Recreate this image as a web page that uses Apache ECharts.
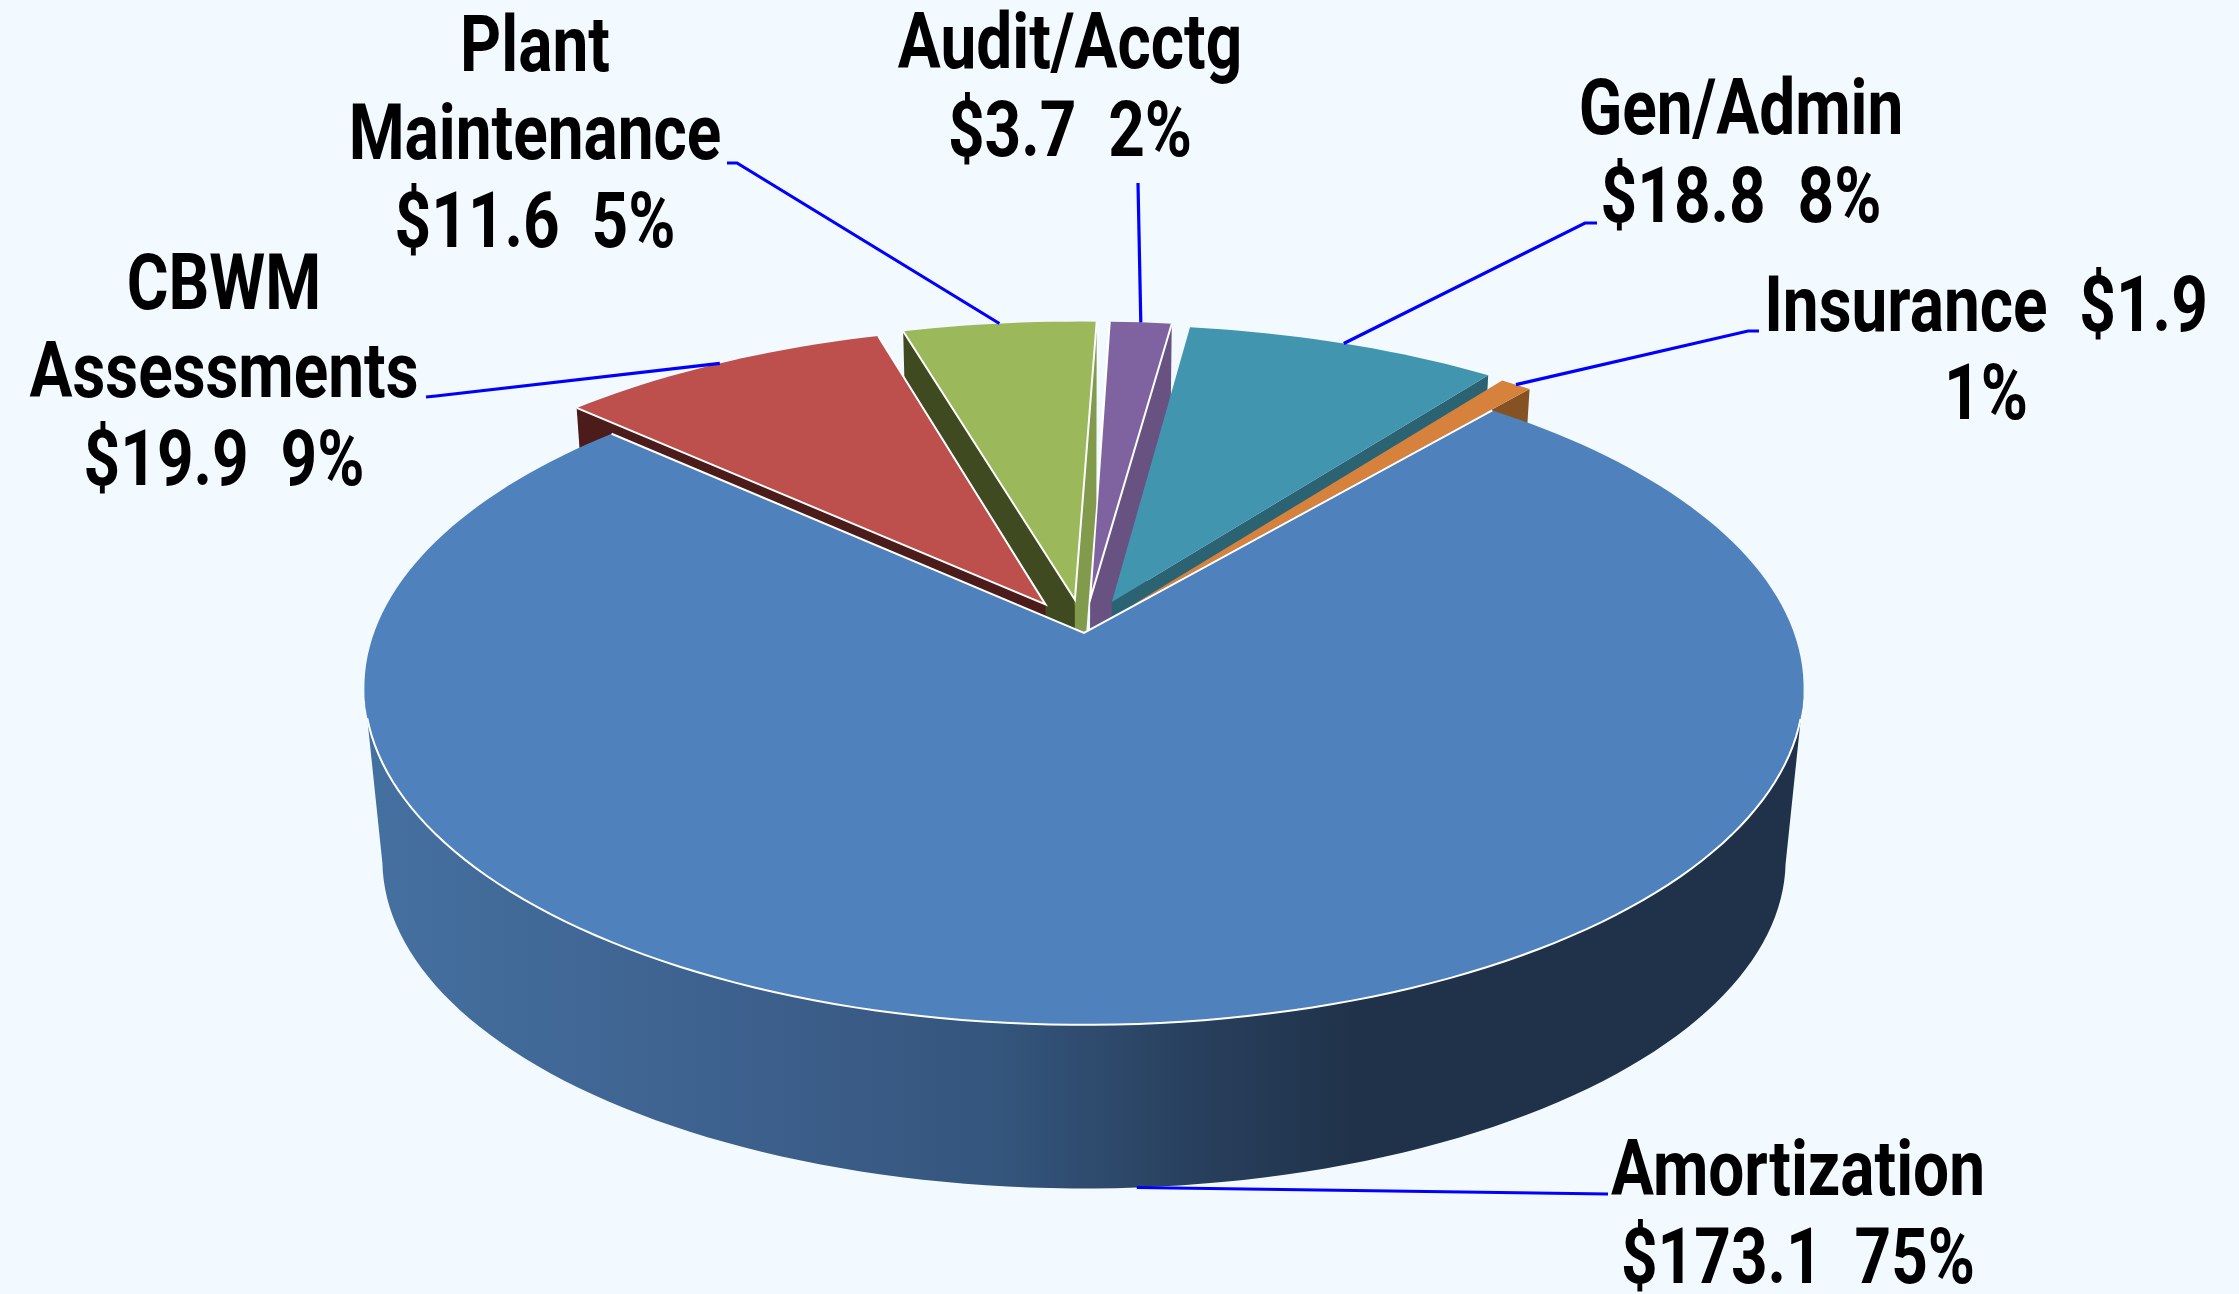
<!DOCTYPE html>
<html>
<head>
<meta charset="utf-8">
<title>Expenses</title>
<script src="https://cdn.jsdelivr.net/npm/echarts@6/dist/echarts.min.js"></script>
<style>
  html, body { margin: 0; padding: 0; background: #f2f9ff; }
  #chart { width: 2239px; height: 1294px; }
</style>
</head>
<body>
<div id="chart"></div>
<script>
// data, clockwise from the top left corner of the gap
var categories = ["CBWM\nAssessments", "Plant\nMaintenance", "Audit/Acctg", "Gen/Admin", "Insurance", "Amortization"];
var amounts = [19.9, 11.6, 3.7, 18.8, 1.9, 173.1];
var amountLabels = ["$19.9", "$11.6", "$3.7", "$18.8", "$1.9", "$173.1"];
var percentLabels = ["9%", "5%", "2%", "8%", "1%", "75%"];

// look of each slice
var faceColors = ["#bd4f4d", "#9bb95a", "#7f63a0", "#4195ae", "#d6823c", "#4f81bd"];
var startWallColors = ["#4c1c1b", "#3f4a21", null, null, null, null];
var endWallColors = [null, "#819a4b", "#675282", "#2b6373", "#855224", null];
var whiteEdges = [true, true, true, false, false, true];
var explode = [0.104, 0.104, 0.104, 0.104, 0.104, 0];
var radii = [1.015, 1.02, 1.02, 1.012, 1.004, 1];
var paintOrder = [2, 3, 4, 1, 0, 5];

// where the labels and their elbows sit
var labelPos = [[224, 378], [535, 140], [1070, 93], [1741, 159], [1986, 356], [1798, 1220]];
var elbowPos = [[436, 396], [737, 163], null, [1585, 223], [1748, 331], null];
var leaderEnd = [[426, 397], [727, 163], [1138, 183], [1597, 223], [1759, 331], [1608, 1194]];

// projection of the tilted disc
var CX = 1084, CY = 633, A = 710, B = 328, K = 0.163;
var WALL_SCALE = 0.975, RIM_MID_Y = 688, WALL_DROP = 172;
var START_ANGLE = 137.6;

var total = amounts.reduce(function (a, b) { return a + b; }, 0);
var sliceAngles = [];
var cursor = START_ANGLE;
amounts.forEach(function (v) {
  var sweep = v / total * 360;
  sliceAngles.push([cursor, cursor - sweep]);
  cursor -= sweep;
});

function rad(d) { return d * Math.PI / 180; }

// disc coords (v pointing away from the viewer) to screen
function project(u, v) {
  var d = 1 + K * v;
  return [CX + A * u / d, CY - B * v / d];
}
function drop(p) {
  return [CX + WALL_SCALE * (p[0] - CX), RIM_MID_Y + WALL_DROP + WALL_SCALE * (p[1] - RIM_MID_Y)];
}
function sliceCenter(i) {
  var mid = rad((sliceAngles[i][0] + sliceAngles[i][1]) / 2);
  return [explode[i] * Math.cos(mid), explode[i] * Math.sin(mid)];
}
function rimPoint(i, deg) {
  var c = sliceCenter(i);
  return project(c[0] + radii[i] * Math.cos(rad(deg)), c[1] + radii[i] * Math.sin(rad(deg)));
}
function apexPoint(i) {
  var c = sliceCenter(i);
  return project(c[0], c[1]);
}
function rimArc(i) {
  var a = sliceAngles[i], pts = [];
  var n = Math.max(2, Math.ceil((a[0] - a[1]) / 1.5));
  for (var s = 0; s <= n; s++) pts.push(rimPoint(i, a[0] + (a[1] - a[0]) * s / n));
  return pts;
}

var blueWallFill = {
  type: "linear", global: true, x: 370, y: 0, x2: 1800, y2: 0,
  colorStops: [
    { offset: 0, color: "#44709f" },
    { offset: 0.23, color: "#3e6290" },
    { offset: 0.44, color: "#34557c" },
    { offset: 0.58, color: "#283f5d" },
    { offset: 0.69, color: "#1f3249" },
    { offset: 1, color: "#1f3249" }
  ]
};

function wall(p, color) {
  return {
    type: "polygon",
    shape: { points: [p[0], p[1], drop(p[1]), drop(p[0])] },
    style: { fill: color }
  };
}

// near part of the rim, between the leftmost and rightmost points
function nearRim(arc) {
  var right = 0, left = 0;
  arc.forEach(function (p, k) {
    if (p[0] > arc[right][0]) right = k;
    if (p[0] < arc[left][0]) left = k;
  });
  return arc.slice(right, left + 1);
}

function renderSlice(params, api) {
  var i = api.value(0);
  var arc = rimArc(i), apex = apexPoint(i);
  var children = [];
  if (i === 5) {
    var near = nearRim(arc);
    children.push({
      type: "polygon",
      shape: { points: near.concat(near.map(drop).reverse()) },
      style: { fill: blueWallFill }
    });
  }
  if (startWallColors[i]) children.push(wall([arc[0], apex], startWallColors[i]));
  if (endWallColors[i]) children.push(wall([arc[arc.length - 1], apex], endWallColors[i]));
  children.push({
    type: "polygon",
    shape: { points: [apex].concat(arc) },
    style: { fill: faceColors[i] }
  });
  if (whiteEdges[i]) {
    children.push({
      type: "polyline",
      shape: { points: [arc[0], apex, arc[arc.length - 1]] },
      style: { fill: null, stroke: "#fff", lineWidth: 2 }
    });
  }
  if (i === 5) {
    // white rim along the near side
    children.push({
      type: "polyline",
      shape: { points: arc.filter(function (p) { return p[1] > RIM_MID_Y + 30; }) },
      style: { fill: null, stroke: "#fff", lineWidth: 2 }
    });
  }
  return { type: "group", children: children };
}

function labelText(i) {
  var amountLine = amountLabels[i] + "  " + percentLabels[i];
  if (categories[i] === "Insurance") return categories[i] + "  " + amountLabels[i] + "\n" + percentLabels[i];
  return categories[i] + "\n" + amountLine;
}

function renderLabel(params, api) {
  var i = api.value(0);
  var mid = (sliceAngles[i][0] + sliceAngles[i][1]) / 2;
  var anchor = i === 5 ? drop(rimPoint(i, mid)) : rimPoint(i, mid);
  var pts = [anchor];
  if (elbowPos[i]) pts.push(elbowPos[i]);
  pts.push(leaderEnd[i]);
  return {
    type: "group",
    children: [
      {
        type: "polyline",
        shape: { points: pts },
        style: { fill: null, stroke: "#0000ff", lineWidth: 3.2 }
      },
      {
        type: "text",
        x: labelPos[i][0],
        y: labelPos[i][1],
        scaleX: 0.83,
        style: {
          text: labelText(i),
          fill: "#000",
          font: "700 77px Roboto",
          lineHeight: 88,
          align: "center",
          verticalAlign: "middle"
        }
      }
    ]
  };
}

var chart = echarts.init(document.getElementById("chart"));
chart.setOption({
  backgroundColor: "#f2f9ff",
  animation: false,
  series: [
    {
      type: "custom",
      coordinateSystem: "none",
      renderItem: renderSlice,
      data: paintOrder.map(function (i) { return [i, amounts[i]]; }),
      z: 1
    },
    {
      type: "custom",
      coordinateSystem: "none",
      renderItem: renderLabel,
      data: amounts.map(function (v, i) { return [i, v]; }),
      z: 2
    }
  ]
});
</script>
</body>
</html>
